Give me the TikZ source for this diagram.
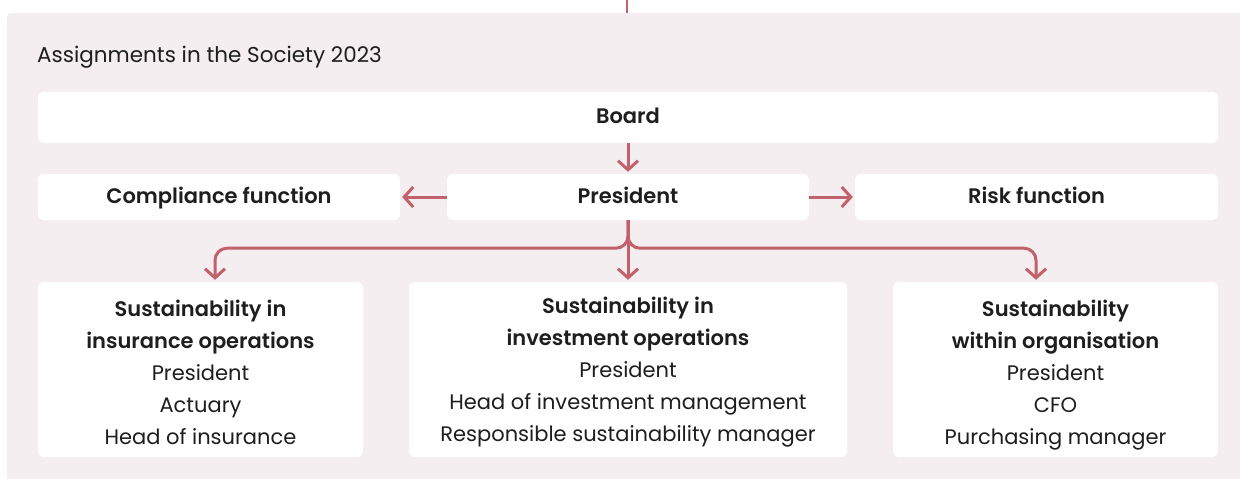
\documentclass[tikz,border=0pt]{standalone}
\usepackage{fontspec}
\setmainfont{Poppins}[BoldFont={* SemiBold}]
\usetikzlibrary{arrows.meta}
\definecolor{panelbg}{HTML}{F4EEF0}
\definecolor{rose}{HTML}{C1616B}
\definecolor{ink}{HTML}{1E1E1E}
\begin{document}
\begin{tikzpicture}[x=1pt,y=-1pt,
  box/.style={fill=white,rounded corners=6pt,inner sep=0pt,align=center,text=ink},
  hdr/.style={box,font=\fontsize{21}{24}\selectfont\bfseries,text height=15pt,text depth=3pt},
  body/.style={box,font=\fontsize{21}{32}\selectfont,text depth=0pt},
  arr/.style={draw=rose,line width=3pt,-{Straight Barb[length=9pt,width=20pt,line width=3pt]},shorten >=2pt},
]
\useasboundingbox (0,0) rectangle (1240,479);
% panel
\fill[panelbg, rounded corners=4pt] (7,13) rectangle (1250,490);
\coordinate (topin) at (627,0);
\coordinate (paneltop) at (627,13);
\draw[rose,line width=1.5pt] (topin) -- (paneltop);
\node[anchor=west,text=ink,font=\fontsize{21.5}{24}\selectfont,inner sep=0pt] (title) at (37,57) {Assignments in the Society 2023};

\node[hdr,minimum width=1180pt,minimum height=51pt] (board) at (628,117.5) {Board};
\node[hdr,minimum width=362pt,minimum height=46pt] (comp) at (219,197) {Compliance function};
\node[hdr,minimum width=362pt,minimum height=46pt] (pres) at (628,197) {President};
\node[hdr,minimum width=363pt,minimum height=46pt] (risk) at (1036.5,197) {Risk function};

\node[body,text height=149.5pt,minimum width=325pt,minimum height=175pt] (ins) at (200.5,369.5)
  {\textbf{Sustainability in}\\\textbf{insurance operations}\\President\\Actuary\\Head of insurance};
\node[body,minimum width=438pt,minimum height=175pt] (inv) at (628,369.5)
  {\textbf{Sustainability in}\\\textbf{investment operations}\\President\\Head of investment management\\Responsible sustainability manager};
\node[body,text height=149.5pt,minimum width=325pt,minimum height=175pt] (org) at (1055.5,369.5)
  {\textbf{Sustainability}\\\textbf{within organisation}\\President\\CFO\\Purchasing manager};

\draw[arr] (board.south) -- (pres.north);
\draw[arr] (pres.west) -- (comp.east);
\draw[arr] (pres.east) -- (risk.west);
\draw[arr,rounded corners=12pt] (pres.south) -- ++(0,28) -| ([xshift=14.5pt]ins.north);
\draw[arr,rounded corners=12pt] (pres.south) -- ++(0,28) -| ([xshift=-19.5pt]org.north);
\draw[arr] (pres.south) -- (inv.north);
\end{tikzpicture}
\end{document}
